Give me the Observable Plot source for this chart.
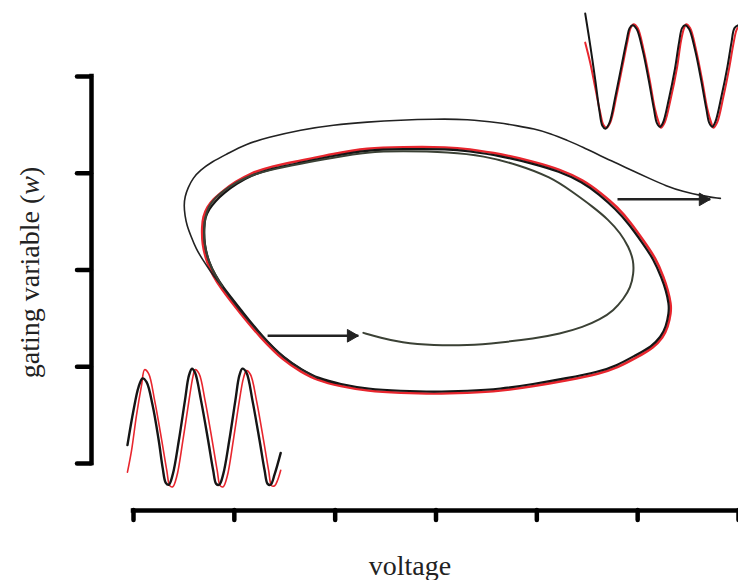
<!DOCTYPE html>
<html>
<head>
<meta charset="utf-8">
<script src="https://cdn.jsdelivr.net/npm/d3@7"></script>
<script src="https://cdn.jsdelivr.net/npm/@observablehq/plot@0.6"></script>
<style>
  body { margin: 0; background: #fff; }
  #chart svg { display: block; }
</style>
</head>
<body>
<div id="chart"></div>
<script>
// ---- text ----
const xLabel = "voltage";
const yLabel = "gating variable (w)";

// ---- axes (no tick labels in the original) ----
const xTicks = [0, 100, 200, 300, 400, 500, 600];
const yTicks = [0, 100, 200, 300, 400];

// ---- phase plane: [voltage, w] ----
const limitCycleRed = [
  [314,327],[265,327],[232,326],[198,320],[166,313],[136,307],[116,300],[101,291],[89,282],[79,273],
  [73,265],[69,255],[68,245],[68,227],[73,207],[79,194],[86,182],[106,155],[126,130],[149,106],
  [166,95],[182,86],[205,80],[232,75],[265,73],[298,72],[331,73],[364,75],[397,80],[430,86],
  [463,93],[480,99],[500,110],[516,120],[525,130],[530,141],[533,156],[533,165],[530,179],[526,192],
  [518,212],[506,230],[493,249],[480,265],[463,280],[446,293],[423,304],[397,312],[364,320],[331,325]
];
const limitCycleBlack = [
  [314,325],[265,325],[232,324],[198,318],[167,311],[137,305],[117,298],[102,289],[90,280],[81,271],
  [75,263],[71,254],[70,245],[70,227],[75,207],[81,195],[88,183],[108,157],[127,132],[150,108],
  [167,97],[183,88],[205,82],[232,77],[265,75],[298,74],[331,75],[364,77],[396,82],[429,88],
  [462,95],[479,101],[498,112],[514,121],[523,131],[528,141],[531,156],[531,165],[528,179],[524,191],
  [516,211],[504,229],[491,248],[478,263],[462,278],[445,291],[422,302],[396,310],[364,318],[331,323]
];
const outerTrajectory = [
  [582,274],[562,277],[545,281],[528,287],[513,294],[496,302],[480,310],[463,318],[446,327],[430,334],
  [414,341],[397,346],[381,349],[364,352],[331,356],[298,356],[265,355],[232,353],[198,350],[166,345],
  [133,337],[111,330],[93,320],[78,312],[66,303],[59,295],[54,285],[51,276],[50,267],[51,256],
  [53,246],[57,235],[62,222],[69,210],[76,199],[83,189],[93,176],[106,157],[127,132],[150,108],
  [167,97],[183,88]
];
const innerTrajectory = [
  [228,135],[245,130],[265,125],[298,122],[331,122],[364,125],[397,129],[423,134],[446,141],[463,149],
  [476,158],[486,170],[493,182],[496,196],[496,210],[491,224],[483,238],[471,252],[456,265],[435,281],
  [414,296],[381,309],[347,318],[314,322],[265,323],[232,322],[198,316],[166,310],[133,303],[111,296],
  [93,285],[81,275],[74,265],[71,254],[70,243],[70,227],[75,207],[81,195],[88,183]
];
const arrows = [
  {x1: 133, x2: 223, y: 132},
  {x1: 480, x2: 572, y: 273}
];

// ---- inset traces: voltage over time ----
const insetLowRed = [
  [-6,-9],[-2,13],[3,50],[8,81],[11,97],[15,93],[21,65],[28,24],[33,-7],[36,-23],[39,-24],[43,-13],
  [49,24],[55,65],[59,90],[61,97],[65,93],[71,65],[78,24],[83,-7],[86,-23],[89,-24],[93,-13],
  [99,24],[105,65],[109,88],[112,96],[116,92],[122,65],[129,24],[134,-7],[137,-23],[140,-23],[143,-17],[146,-7]
];
const insetLowBlack = [
  [-6,19],[0,55],[5,79],[9,88],[13,84],[19,60],[25,24],[29,-5],[32,-20],[35,-22],[39,-11],
  [45,24],[51,65],[55,91],[58,98],[61,94],[67,65],[74,24],[79,-7],[82,-21],[85,-22],[89,-11],
  [95,24],[101,65],[105,91],[108,98],[112,94],[118,65],[125,24],[130,-7],[133,-21],[136,-22],[140,-11],[146,11]
];
const insetHighRed = [
  [448,435],[453,414],[458,388],[463,362],[466,350],[469,347],[473,353],[479,380],[485,411],[490,437],
  [493,450],[496,454],[500,450],[506,427],[512,396],[517,367],[521,352],[523,347],[527,353],[533,378],
  [539,409],[543,437],[546,450],[548,454],[552,450],[558,427],[564,396],[569,367],[573,352],[575,347],
  [579,353],[585,379],[591,410],[595,434],[598,448],[600,451]
];
const insetHighBlack = [
  [448,465],[453,432],[458,396],[462,365],[465,349],[468,346],[472,352],[478,380],[484,411],[489,437],
  [492,450],[495,453],[499,449],[505,427],[511,396],[516,367],[519,352],[522,348],[525,352],[531,377],
  [537,408],[541,435],[544,450],[547,453],[551,449],[557,427],[563,396],[568,367],[571,352],[574,348],
  [577,353],[583,379],[589,410],[593,435],[596,450],[600,453]
];

const RED = "#e8262e";
const INK = "#151515";
const px = d => d[0], py = d => d[1];

const chart = Plot.plot({
  width: 738,
  height: 580,
  marginTop: 76,
  marginBottom: 70,
  marginLeft: 91,
  marginRight: 0,
  x: {domain: [xTicks[0], xTicks[xTicks.length - 1]], insetLeft: 42},
  y: {domain: [yTicks[0], yTicks[yTicks.length - 1]], insetBottom: 47},
  style: {fontFamily: "'Liberation Serif', 'Times New Roman', serif", background: "#fff"},
  marks: [
    // axes
    Plot.ruleX([xTicks[0]], {y1: yTicks[0], y2: yTicks[yTicks.length - 1], dx: -42, stroke: "#000", strokeWidth: 4.5, strokeLinecap: "square"}),
    Plot.ruleY([yTicks[0]], {x1: xTicks[0], x2: xTicks[xTicks.length - 1], dy: 47, stroke: "#000", strokeWidth: 4.5, strokeLinecap: "square"}),
    Plot.axisY(yTicks, {anchor: "left", tickSize: 14, stroke: "#000", strokeWidth: 4.5, strokeLinecap: "round", fill: "none", label: null}),
    Plot.axisX(xTicks, {anchor: "bottom", tickSize: 10, stroke: "#000", strokeWidth: 4.5, strokeLinecap: "round", fill: "none", label: null}),
    // axis titles
    Plot.text([xLabel], {text: d => d, frameAnchor: "bottom", textAnchor: "middle", lineAnchor: "middle", dx: -5, dy: 56, fontSize: 28, fill: "#222"}),
    Plot.text([yLabel], {text: d => d, frameAnchor: "left", textAnchor: "middle", lineAnchor: "middle", rotate: -90, dx: -61, dy: -21, fontSize: 28, fill: "#222"}),
    // limit cycle
    Plot.line(limitCycleRed, {x: px, y: py, stroke: RED, strokeWidth: 2.6, curve: "basis-closed"}),
    Plot.line(limitCycleBlack, {x: px, y: py, stroke: INK, strokeWidth: 2.2, curve: "basis-closed"}),
    // perturbed trajectories
    Plot.line(outerTrajectory, {x: px, y: py, stroke: "#222", strokeWidth: 1.6, curve: "basis"}),
    Plot.line(innerTrajectory, {x: px, y: py, stroke: "#3b4135", strokeWidth: 2, curve: "basis"}),
    // arrows
    Plot.link(arrows, {x1: "x1", x2: "x2", y1: "y", y2: "y", stroke: "#222", strokeWidth: 2.5}),
    Plot.dot(arrows, {x: "x2", y: "y", symbol: "triangle", r: 4.7, rotate: 90, dx: -7.3, fill: "#222", stroke: "#222", strokeWidth: 1}),
    // insets
    Plot.line(insetLowRed, {x: px, y: py, stroke: RED, strokeWidth: 1.6, curve: "catmull-rom"}),
    Plot.line(insetLowBlack, {x: px, y: py, stroke: INK, strokeWidth: 2.4, curve: "catmull-rom"}),
    Plot.line(insetHighRed, {x: px, y: py, stroke: RED, strokeWidth: 2, curve: "catmull-rom"}),
    Plot.line(insetHighBlack, {x: px, y: py, stroke: INK, strokeWidth: 2, curve: "catmull-rom"})
  ]
});

// italic (w) in the y-axis title
d3.select(chart).selectAll("text").filter(function () { return this.textContent === yLabel; }).each(function () {
  const m = yLabel.match(/^(.*\()(w)(\).*)$/);
  if (!m) return;
  const ns = "http://www.w3.org/2000/svg";
  while (this.firstChild) this.removeChild(this.firstChild);
  this.appendChild(document.createTextNode(m[1]));
  const t = document.createElementNS(ns, "tspan");
  t.setAttribute("font-style", "italic");
  t.textContent = m[2];
  this.appendChild(t);
  this.appendChild(document.createTextNode(m[3]));
});

document.getElementById("chart").appendChild(chart);
</script>
</body>
</html>
